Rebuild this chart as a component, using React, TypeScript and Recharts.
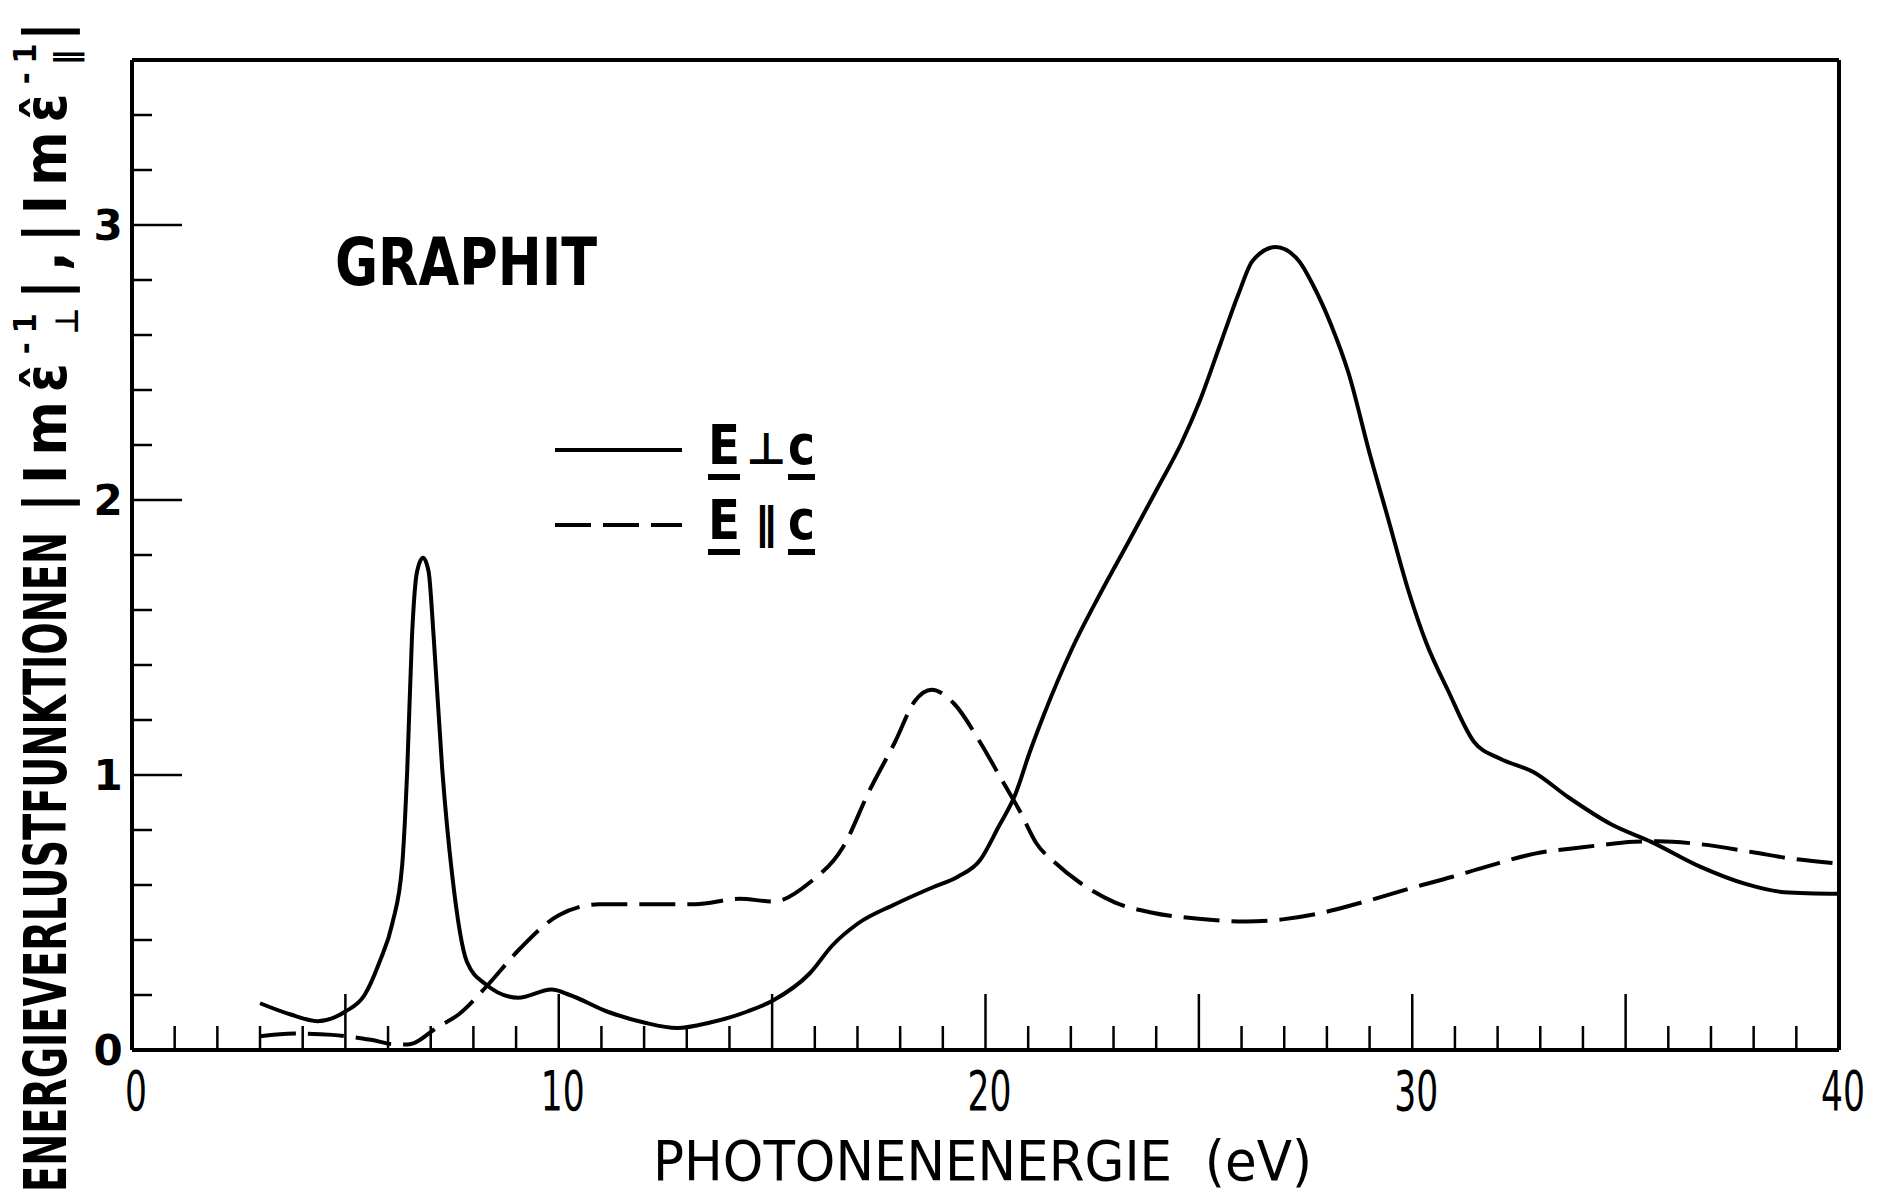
import { Legend, Line, LineChart, XAxis, YAxis } from 'recharts'

// E perpendicular c (solid)
const perpEnergy = [
  3.0, 3.7, 4.35, 5.0, 5.45, 5.8, 6.1, 6.33, 6.45, 6.56, 6.68, 6.82, 6.95, 7.07, 7.27, 7.5, 7.85, 8.28,
  9.05, 9.83, 10.26, 11.13, 12.0, 12.77, 13.55, 14.42, 15.02, 15.89, 16.41, 17.01, 17.88, 18.74, 19.35,
  19.87, 20.3, 20.7, 21.03, 21.37, 22.03, 22.69, 23.36, 24.02, 24.6, 25.02, 25.51, 25.93, 26.26, 26.8,
  27.34, 27.68, 28.09, 28.51, 29.0, 29.42, 29.91, 30.33, 30.83, 31.45, 32.05, 32.85, 33.65, 34.67, 35.6,
  36.77, 37.79, 38.72, 40.0,
]
const perpLoss = [
  0.17, 0.13, 0.105, 0.14, 0.2, 0.32, 0.46, 0.67, 1.02, 1.5, 1.74, 1.79, 1.74, 1.5, 1.02, 0.64, 0.32, 0.24,
  0.19, 0.22, 0.2, 0.14, 0.1, 0.08, 0.1, 0.14, 0.18, 0.28, 0.38, 0.46, 0.53, 0.59, 0.63,
  0.69, 0.81, 0.93, 1.08, 1.22, 1.46, 1.66, 1.85, 2.04, 2.21, 2.36, 2.57, 2.75, 2.87, 2.92,
  2.87, 2.78, 2.64, 2.46, 2.17, 1.94, 1.67, 1.48, 1.31, 1.12, 1.06, 1.01, 0.92, 0.82, 0.757,
  0.665, 0.605, 0.574, 0.568,
]

// E parallel c (dashed)
const paraEnergy = [
  3.0, 3.8, 4.7, 5.6, 6.2, 6.45, 7.2, 7.66, 8.3, 9.1, 10.0, 10.95, 12.0, 13.2, 14.24, 15.02, 15.89, 16.67,
  17.27, 17.88, 18.35, 18.74, 19.26, 19.87, 20.39, 20.8, 21.2, 21.64, 22.2, 23.04, 23.88, 25.0, 26.1,
  26.96, 27.8, 28.9, 30.0, 30.92, 31.7, 32.87, 34.04, 35.21, 35.76, 36.77, 37.95, 38.88, 40.0,
]
const paraLoss = [
  0.05, 0.06, 0.055, 0.037, 0.02, 0.02, 0.087, 0.13, 0.23, 0.37, 0.49, 0.53, 0.53, 0.53, 0.55, 0.54, 0.61, 0.74,
  0.94, 1.12, 1.27, 1.31, 1.26, 1.12, 0.98, 0.87, 0.75, 0.68, 0.61, 0.536, 0.5, 0.477, 0.467,
  0.475, 0.496, 0.54, 0.59, 0.629, 0.665, 0.714, 0.738, 0.757, 0.759, 0.748, 0.72, 0.696, 0.678,
]

const seriesNames = ['E⊥c', 'E∥c']

const energyTicks = [
  0, 1, 2, 3, 4, 5, 6, 7, 8, 9, 10, 11, 12, 13, 14, 15, 16, 17, 18, 19, 20,
  21, 22, 23, 24, 25, 26, 27, 28, 29, 30, 31, 32, 33, 34, 35, 36, 37, 38, 39, 40,
]
const energyLabels = [0, 10, 20, 30, 40]
const lossTicks = [0, 0.2, 0.4, 0.6, 0.8, 1, 1.2, 1.4, 1.6, 1.8, 2, 2.2, 2.4, 2.6, 2.8, 3, 3.2, 3.4, 3.6]
const lossLabels = [0, 1, 2, 3]

const perpData = perpEnergy.map((energy, i) => ({ energy, loss: perpLoss[i] }))
const paraData = paraEnergy.map((energy, i) => ({ energy, loss: paraLoss[i] }))

const FONT = "'DejaVu Sans Condensed', 'Liberation Sans Narrow', 'DejaVu Sans', sans-serif"
const INK = '#000'

function BottomTick({ x, y, payload }: any) {
  const v = payload.value
  const edge = v === 0 || v === 40
  const long = v % 5 === 0
  return (
    <g>
      {!edge && <line x1={x} y1={y} x2={x} y2={y - (long ? 56 : 24)} stroke={INK} strokeWidth={2.5} />}
      {energyLabels.includes(v) && (
        <text
          x={x + 4}
          y={y + 60}
          textAnchor="middle"
          fontSize={48}
          fontFamily={FONT}
          transform={`translate(${x + 4} ${y + 60}) scale(0.8 1.15) translate(${-(x + 4)} ${-(y + 60)})`}
          fill={INK}
        >
          {v}
        </text>
      )}
    </g>
  )
}

function TopTick({ x, y, payload }: any) {
  const v = payload.value
  if (v === 0 || v === 40) return <g />
  const long = v % 5 === 0
  return <line x1={x} y1={y} x2={x} y2={y + (long ? 52 : 24)} stroke={INK} strokeWidth={2.5} />
}

function LeftTick({ x, y, payload }: any) {
  const v = payload.value
  const edge = v === 0 || v === 3.6
  const long = Number.isInteger(v)
  return (
    <g>
      {!edge && <line x1={x} y1={y} x2={x + (long ? 50 : 20)} y2={y} stroke={INK} strokeWidth={2.5} />}
      {lossLabels.includes(v) && (
        <text
          x={x - 24}
          y={y + 15}
          textAnchor="middle"
          fontSize={42}
          fontWeight="bold"
          fontFamily="'DejaVu Sans', sans-serif"
          fill={INK}
        >
          {v}
        </text>
      )}
    </g>
  )
}

function RightTick({ x, y, payload }: any) {
  const v = payload.value
  if (v === 0 || v === 3.6) return <g />
  const long = Number.isInteger(v)
  return <line x1={x} y1={y} x2={x - (long ? 52 : 20)} y2={y} stroke={INK} strokeWidth={2.5} />
}

function KeyBox({ payload }: any) {
  const items = [...(payload ?? [])].sort(
    (a: any, b: any) => seriesNames.indexOf(a.value) - seriesNames.indexOf(b.value),
  )
  return (
    <svg width={300} height={170}>
      {items.map((entry: any, i: number) => {
        const y = 40 + i * 75
        const [e, sym, c] = Array.from(String(entry.value))
        return (
          <g key={entry.value} fontWeight="bold" fill={INK}>
            <line
              x1={15}
              x2={142}
              y1={y}
              y2={y}
              stroke={INK}
              strokeWidth={4}
              strokeDasharray={entry.payload?.strokeDasharray}
            />
            <text x={168} y={y + 14} fontSize={56} fontFamily={FONT} textLength={32} lengthAdjust="spacingAndGlyphs">
              {e}
            </text>
            <text x={226} y={y + 14} fontSize={44} textAnchor="middle" fontFamily="'DejaVu Sans', sans-serif">
              {sym}
            </text>
            <text x={248} y={y + 14} fontSize={56} fontFamily={FONT} textLength={27} lengthAdjust="spacingAndGlyphs">
              {c}
            </text>
            <rect x={168} y={y + 24} width={32} height={6} />
            <rect x={248} y={y + 24} width={27} height={6} />
          </g>
        )
      })}
    </svg>
  )
}

export default function App() {
  return (
    <div style={{ position: 'relative', width: 1879, height: 1196, background: '#fff' }}>
      <style>{'body{margin:0}'}</style>
      <LineChart width={1879} height={1196} margin={{ top: 40, right: 20, bottom: 86, left: 72 }}>
        <XAxis
          xAxisId="bottom"
          dataKey="energy"
          type="number"
          domain={[0, 40]}
          ticks={energyTicks}
          interval={0}
          height={60}
          tickSize={0}
          tickMargin={0}
          tickLine={false}
          axisLine={{ stroke: INK, strokeWidth: 4 }}
          tick={BottomTick}
        />
        <XAxis
          xAxisId="top"
          orientation="top"
          dataKey="energy"
          type="number"
          domain={[0, 40]}
          ticks={energyTicks}
          interval={0}
          height={20}
          tickSize={0}
          tickMargin={0}
          tickLine={false}
          axisLine={{ stroke: INK, strokeWidth: 4 }}
          tick={TopTick}
        />
        <YAxis
          yAxisId="left"
          type="number"
          domain={[0, 3.6]}
          ticks={lossTicks}
          interval={0}
          width={60}
          tickSize={0}
          tickMargin={0}
          tickLine={false}
          axisLine={{ stroke: INK, strokeWidth: 4 }}
          tick={LeftTick}
        />
        <YAxis
          yAxisId="right"
          orientation="right"
          type="number"
          domain={[0, 3.6]}
          ticks={lossTicks}
          interval={0}
          width={20}
          tickSize={0}
          tickMargin={0}
          tickLine={false}
          axisLine={{ stroke: INK, strokeWidth: 4 }}
          tick={RightTick}
        />
        <Legend
          layout="horizontal"
          verticalAlign="middle"
          align="center"
          content={KeyBox}
          wrapperStyle={{ position: 'absolute', left: 540, top: 410, width: 300, height: 170 }}
        />
        <Line
          xAxisId="bottom"
          yAxisId="left"
          data={perpData}
          dataKey="loss"
          name={seriesNames[0]}
          type="monotone"
          stroke={INK}
          strokeWidth={4}
          dot={false}
          activeDot={false}
          isAnimationActive={false}
        />
        <Line
          xAxisId="bottom"
          yAxisId="left"
          data={paraData}
          dataKey="loss"
          name={seriesNames[1]}
          type="monotone"
          stroke={INK}
          strokeWidth={4}
          strokeDasharray="36 12"
          dot={false}
          activeDot={false}
          isAnimationActive={false}
        />
      </LineChart>

      <svg
        width={1879}
        height={1196}
        style={{ position: 'absolute', left: 0, top: 0, pointerEvents: 'none' }}
        fill={INK}
      >
        <text x={335} y={285} fontSize={66} fontWeight="bold" fontFamily={FONT} textLength={262} lengthAdjust="spacingAndGlyphs">
          GRAPHIT
        </text>
        <text
          x={653}
          y={1180}
          fontSize={56}
          fontFamily={FONT}
          textLength={659}
          lengthAdjust="spacingAndGlyphs"
          style={{ whiteSpace: 'pre' }}
        >
          PHOTONENENERGIE  (eV)
        </text>
        <text
          x={66}
          y={1192}
          transform="rotate(-90 66 1192)"
          fontSize={58}
          fontWeight="bold"
          fontFamily={FONT}
          textLength={660}
          lengthAdjust="spacingAndGlyphs"
        >
          ENERGIEVERLUSTFUNKTIONEN
        </text>
        <text
          x={66}
          y={512}
          transform="rotate(-90 66 512)"
          fontSize={58}
          fontWeight="bold"
          fontFamily={FONT}
          textLength={490}
          lengthAdjust="spacing"
        >
          |Imε̂
          <tspan fontSize={32} dy={-30}>-1</tspan>
          <tspan fontSize={32} dx={-30} dy={42}>⊥</tspan>
          <tspan fontSize={58} dy={-12}>|,|Imε̂</tspan>
          <tspan fontSize={32} dy={-30}>-1</tspan>
          <tspan fontSize={32} dx={-30} dy={42}>∥</tspan>
          <tspan fontSize={58} dy={-12}>|</tspan>
        </text>
      </svg>
    </div>
  )
}
